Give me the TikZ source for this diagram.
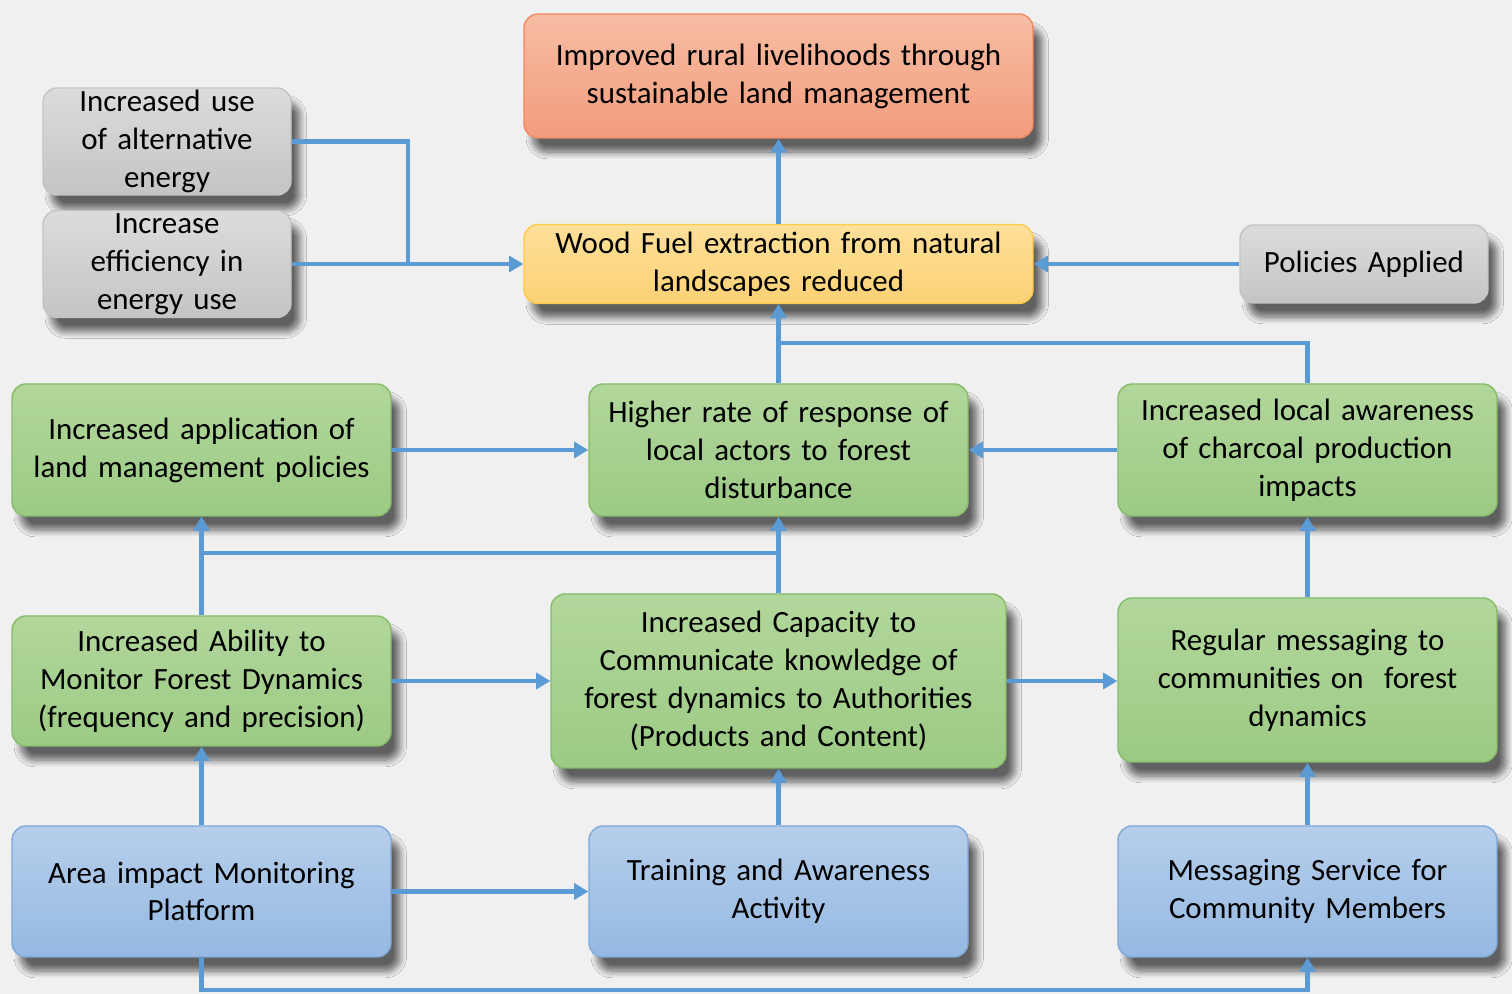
\documentclass[tikz,border=0pt]{standalone}
\usepackage{fontspec}
\setmainfont{Carlito}
\usepackage{tikz}
\usetikzlibrary{positioning}
\usetikzlibrary{shadows.blur}
\usetikzlibrary{arrows.meta}
\definecolor{bgray}{HTML}{F0F0F0}
\definecolor{linkblue}{HTML}{5B9BD5}
\definecolor{orangeA}{HTML}{F7BDA4}
\definecolor{orangeB}{HTML}{F29C7C}
\definecolor{orangeE}{HTML}{F08A62}
\definecolor{yellowA}{HTML}{FEE09A}
\definecolor{yellowB}{HTML}{FCD174}
\definecolor{yellowE}{HTML}{FFC94A}
\definecolor{grayA}{HTML}{DCDCDC}
\definecolor{grayB}{HTML}{C4C4C4}
\definecolor{greenA}{HTML}{B2D79C}
\definecolor{greenB}{HTML}{9CCA84}
\definecolor{greenE}{HTML}{86BD6A}
\definecolor{blueA}{HTML}{B6CEEB}
\definecolor{blueB}{HTML}{95B9E2}
\definecolor{blueE}{HTML}{7EA9DA}
\tikzset{
	box/.style={rounded corners=4pt, align=center, inner xsep=0pt, inner ysep=0pt,
		font=\fontsize{8.8}{10.8}\selectfont, line width=0.4pt,
		blur shadow={shadow xshift=2.5pt, shadow yshift=-4pt, shadow blur steps=8, shadow opacity=60}},
	goalbox/.style={box, top color=orangeA, bottom color=orangeB, draw=orangeE},
	fuelbox/.style={box, top color=yellowA, bottom color=yellowB, draw=yellowE},
	greybox/.style={box, top color=grayA, bottom color=grayB, draw=grayB},
	resultbox/.style={box, top color=greenA, bottom color=greenB, draw=greenE},
	inputbox/.style={box, top color=blueA, bottom color=blueB, draw=blueE},
	link/.style={draw=linkblue, line width=1.2pt, -{Triangle[length=4pt,width=4.5pt]}},
}
\begin{document}
\begin{tikzpicture}
	\useasboundingbox (0,0) rectangle (15.12,-9.94);
	\fill[bgray] (0,0) rectangle (15.12,-9.94);
	% top rows
	\node[goalbox, text width=5.09cm, minimum height=1.24cm] (goal) at (7.785,-0.76) {Improved rural livelihoods through\\sustainable land management};
	\node[greybox, text width=2.48cm, minimum height=1.07cm] (altuse) at (1.67,-1.415) {Increased use\\of alternative\\energy};
	\node[greybox, text width=2.48cm, minimum height=1.07cm] (effic) at (1.67,-2.64) {Increase\\efficiency in\\energy use};
	\node[fuelbox, text width=5.09cm, minimum height=0.79cm] (fuel) at (7.785,-2.64) {Wood Fuel extraction from natural\\landscapes reduced};
	\node[greybox, text width=2.48cm, minimum height=0.78cm] (policies) at (13.64,-2.64) {Policies Applied};
	% outcomes
	\node[resultbox, text width=3.79cm, minimum height=1.32cm] (apply) at (2.015,-4.50) {Increased application of\\land management policies};
	\node[resultbox, text width=3.79cm, minimum height=1.32cm] (response) at (7.785,-4.50) {Higher rate of response of\\local actors to forest\\disturbance};
	\node[resultbox, text width=3.79cm, minimum height=1.32cm] (aware) at (13.075,-4.50) {Increased local awareness\\of charcoal production\\impacts};
	\node[resultbox, text width=3.79cm, minimum height=1.30cm] (ability) at (2.015,-6.81) {Increased Ability to\\Monitor Forest Dynamics\\(frequency and precision)};
	\node[resultbox, text width=4.55cm, minimum height=1.74cm] (capacity) at (7.785,-6.81) {Increased Capacity to\\Communicate knowledge of\\forest dynamics to Authorities\\(Products and Content)};
	\node[resultbox, text width=3.79cm, minimum height=1.64cm] (regular) at (13.075,-6.80) {Regular messaging to\\communities on\ \ forest\\dynamics};
	% inputs
	\node[inputbox, text width=3.79cm, minimum height=1.31cm] (platform) at (2.015,-8.915) {Area impact Monitoring\\Platform};
	\node[inputbox, text width=3.79cm, minimum height=1.31cm] (training) at (7.785,-8.915) {Training and Awareness\\Activity};
	\node[inputbox, text width=3.79cm, minimum height=1.31cm] (service) at (13.075,-8.915) {Messaging Service for\\Community Members};
	\coordinate (merge) at (4.08,-2.64);
	\coordinate (topjoin) at (7.785,-3.43);
	\coordinate (midjoin) at (2.015,-5.53);
	\coordinate (botjoin) at (2.015,-9.90);
	% connectors
	\draw[link] (fuel) -- (goal);
	\draw[link, -] (altuse.east) -| (merge);
	\draw[link] (effic) -- (fuel);
	\draw[link] (policies) -- (fuel);
	\draw[link] (response) -- (fuel);
	\draw[link] (aware.north) |- (topjoin) -- (fuel.south);
	\draw[link] (apply) -- (response);
	\draw[link] (aware) -- (response);
	\draw[link] (ability) -- (apply);
	\draw[link] (capacity) -- (response);
	\draw[link] (capacity.north) |- (midjoin) -- (apply.south);
	\draw[link] (ability) -- (capacity);
	\draw[link] (capacity.east) -- (regular.west |- capacity.east);
	\draw[link] (regular) -- (aware);
	\draw[link] (platform) -- (ability);
	\draw[link] (platform) -- (training);
	\draw[link] (training) -- (capacity);
	\draw[link] (service) -- (regular);
	\draw[link] (platform.south) -- (botjoin) -| (service.south);
\end{tikzpicture}
\end{document}
